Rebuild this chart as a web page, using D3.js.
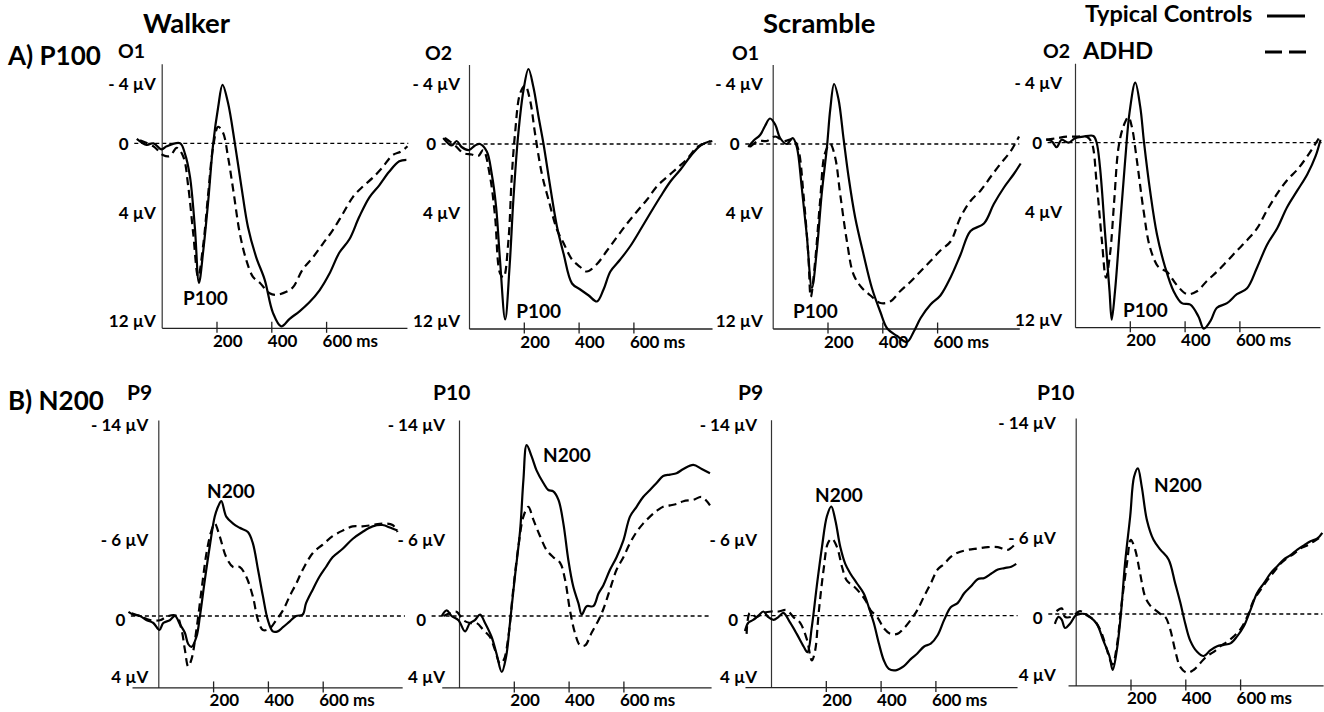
<!DOCTYPE html>
<html><head><meta charset="utf-8">
<script src="https://cdn.jsdelivr.net/npm/d3@7"></script>
<style>
html,body{margin:0;padding:0;background:#fff;}
svg{display:block;font-family:Lato,'Liberation Sans',Arial,sans-serif;font-weight:bold;}
</style></head><body>
<svg id="chart" width="1324" height="712"></svg>
<script>
// ---------------- DATA (time in ms, amplitude in µV; negative is plotted up) ----------------
const seriesNames = ["Typical Controls", "ADHD"];
const conditions = ["Walker", "Scramble"];
const rowTitles = ["A) P100", "B) N200"];
const peakLabels = ["P100", "N200"];
const panelElectrodes = ["O1", "O2", "O1", "O2", "P9", "P10", "P9", "P10"];

const topTickValues = [-4, 0, 4, 12];
const topTickLabels = ["- 4 µV", "0", "4 µV", "12 µV"];
const bottomTickValues = [-14, -6, 0, 4];
const bottomTickLabels = ["- 14 µV", "- 6 µV", "0", "4 µV"];
const timeTickValues = [200, 400, 600];
const timeTickLabels = ["200", "400", "600 ms"];

const walkerO1_TC = [[-91,-0.3],[-55,0.1],[-30,0],[0,0.4],[18,0.2],[67,0],[85,0.7],[103,2.2],[121,5.6],[136,9.3],[152,7.1],[170,3.8],[188,0],[206,-2.4],[222,-3.9],[242,-2.7],[267,0],[291,2.9],[315,5.6],[345,7.6],[376,9.1],[406,11.3],[436,12.2],[467,11.7],[503,11.2],[539,10.6],[576,9.8],[612,8.7],[648,7.3],[685,6.4],[721,4.9],[758,3.6],[794,2.8],[830,1.9],[867,1.2],[893,1.1]];
const walkerO1_ADHD = [[-79,-0.2],[-30,0.2],[6,0.8],[30,0.85],[55,0.3],[79,0.9],[97,2.9],[115,6],[133,8.9],[152,6.7],[170,3.3],[188,0.2],[206,-1.1],[224,-0.7],[242,0.9],[261,3.1],[285,6],[309,7.8],[333,8.9],[358,9.3],[394,10],[418,10.1],[455,9.9],[479,9.6],[515,8.4],[552,7.6],[588,6.7],[624,5.8],[661,4.7],[697,3.6],[733,2.9],[770,2.3],[806,1.6],[842,0.8],[873,0.55],[897,0.2]];

const walkerO2_TC = [[-94,-0.4],[-63,0.1],[-45,-0.2],[-27,0.2],[0,0.4],[22,0.1],[40,0],[65,0.5],[83,2],[99,4.2],[113,7.7],[132,11.7],[148,8.2],[162,3.7],[180,-0.7],[199,-3.6],[217,-5],[235,-3.8],[254,-1.8],[272,0],[296,2.8],[321,5.5],[345,7.3],[376,9.3],[406,9.7],[437,10.1],[467,10.5],[491,9.7],[516,8.5],[552,7.7],[589,6.8],[626,5.7],[662,4.6],[699,3.5],[735,2.5],[772,1.7],[809,0.8],[845,0.1],[882,-0.2]];
const walkerO2_ADHD = [[-88,-0.4],[-51,0.1],[-21,0.6],[10,0.7],[34,0.8],[52,0.4],[77,2.2],[95,4.8],[113,8.6],[126,8.9],[144,6.4],[156,2.2],[168,-0.7],[187,-3.4],[205,-3.9],[223,-2.9],[241,-0.7],[266,2],[290,3.7],[321,5.7],[345,6.6],[376,7.7],[406,8.2],[430,8.5],[467,8],[504,7.1],[540,6.2],[577,5.3],[613,4.5],[650,3.7],[687,2.8],[723,2.2],[760,1.6],[796,1],[833,0.2],[870,-0.1],[888,-0.2]];

const scrambleO1_TC = [[-89,0.2],[-71,-0.2],[-46,-0.6],[-28,-1.2],[-10,-1.7],[9,-1.3],[27,-0.4],[51,0],[73,-0.4],[88,0.2],[106,2.9],[124,6],[143,9.6],[161,7.1],[179,3.3],[198,0.2],[210,-2.3],[224,-4],[240,-3],[259,-0.3],[277,2.2],[301,4.9],[332,7.4],[362,9.6],[393,11.2],[418,12.3],[454,12.8],[490,13.2],[515,12.5],[540,11.6],[576,10.7],[612,10.1],[649,8.9],[685,7.4],[722,5.8],[771,5.3],[807,4],[844,2.9],[880,2],[905,1.3]];
const scrambleO1_ADHD = [[-83,0.2],[-52,-0.2],[-22,-0.2],[9,-0.5],[39,-0.2],[76,-0.3],[94,0.4],[112,3.3],[130,7.4],[139,10.2],[155,7.8],[173,3.8],[191,0.6],[210,0],[228,0.9],[246,3.3],[271,6.5],[295,8.7],[326,9.6],[357,10.1],[393,10.6],[429,10.5],[466,9.8],[502,9.2],[539,8.5],[576,7.8],[612,7.1],[649,6.5],[685,4.9],[722,3.8],[759,3.1],[795,2.2],[832,1.3],[868,0.5],[899,-0.5]];

const scrambleO2_TC = [[-105,-0.2],[-85,-0.1],[-67,0.3],[-49,-0.2],[-24,0],[0,-0.3],[30,-0.4],[67,-0.45],[79,0],[91,1.6],[110,6.1],[126,9.9],[134,11.8],[146,9.9],[165,5.4],[183,1.2],[199,-2],[220,-4],[238,-2.4],[252,0],[274,3.2],[299,6.1],[329,8.3],[360,9.9],[390,10.7],[421,10.8],[451,11.6],[470,12.4],[494,11.9],[518,11],[555,10.7],[591,10.1],[628,9.7],[665,8.3],[701,6.8],[738,5.7],[774,4.3],[811,3.2],[848,2.1],[878,0.9],[896,-0.2]];
const scrambleO2_ADHD = [[-105,-0.2],[-67,-0.3],[-30,-0.4],[6,-0.4],[43,-0.4],[61,0],[79,2.7],[98,6.5],[113,9],[128,7.4],[143,3.9],[159,0.3],[177,-1.1],[195,-1.7],[207,-1.1],[226,1.2],[250,4.5],[274,7],[305,8.3],[335,8.6],[372,9.5],[409,10.1],[445,9.9],[482,9.2],[518,8.6],[555,7.9],[591,7.2],[628,6.5],[665,5.7],[701,4.5],[738,3.4],[774,2.5],[811,1.8],[848,0.9],[890,-0.3]];

const walkerP9_TC = [[-109,-0.3],[-91,-0.1],[-67,0],[-42,0.3],[-18,0.5],[4,1],[18,0.5],[42,0.3],[61,0],[79,0.6],[97,1.2],[109,2],[121,2.2],[139,1.5],[152,0],[170,-2.6],[188,-5],[206,-7.1],[218,-7.8],[230,-8.2],[248,-7.1],[273,-6.6],[297,-6.3],[327,-6],[345,-5.2],[364,-3.3],[382,-1.4],[400,0.3],[418,1.1],[436,1.1],[455,0.8],[479,0.4],[503,0],[527,-0.1],[539,-0.9],[564,-1.9],[588,-2.8],[612,-3.5],[636,-4.2],[673,-4.8],[709,-5.5],[745,-6],[782,-6.4],[818,-6.5],[848,-6.3],[873,-6.1]];
const walkerP9_ADHD = [[-97,-0.2],[-67,0],[-30,0.3],[6,0.3],[36,0],[67,0],[85,1],[97,2.4],[109,3.6],[121,3.1],[139,1],[158,-1.9],[176,-4.5],[194,-6.1],[206,-6.6],[224,-5.7],[248,-4.2],[273,-3.5],[297,-3.5],[321,-2.8],[345,-1.4],[364,0.3],[382,1],[406,0.9],[430,0.3],[455,-0.4],[479,-1.4],[503,-2.3],[527,-3.3],[564,-4.5],[600,-5.1],[636,-5.7],[673,-6.1],[709,-6.4],[745,-6.4],[782,-6.5],[818,-6.6],[855,-6.5],[873,-6]];

const walkerP10_TC = [[-63,0],[-45,-0.4],[-27,0],[-2,0.3],[22,1.1],[40,0.5],[58,0.3],[77,-0.1],[95,0.5],[119,1.5],[137,2.7],[156,4],[172,2.9],[186,0.5],[204,-2.8],[223,-6.1],[235,-9.7],[247,-12.2],[265,-11.4],[283,-10.4],[308,-9.5],[326,-9],[344,-8.9],[363,-8.3],[381,-6.6],[399,-4],[417,-2.1],[436,-0.9],[448,-0.1],[466,-0.7],[490,-0.7],[509,-1.6],[527,-2.2],[551,-3.3],[575,-4.2],[600,-5.4],[624,-7.1],[648,-7.8],[672,-8.5],[697,-9],[721,-9.5],[745,-10],[770,-10.1],[794,-10.2],[819,-10.5],[855,-10.8],[886,-10.5],[916,-10.2]];
const walkerP10_ADHD = [[-57,0],[-33,-0.2],[-9,-0.3],[16,0.3],[40,0.5],[64,0.5],[89,1],[113,1.5],[131,2.4],[150,3.4],[164,3.1],[180,1.5],[198,-1.9],[217,-5],[235,-7.1],[253,-7.8],[271,-6.9],[296,-5.7],[320,-4.7],[344,-4.2],[369,-3.8],[387,-2.6],[405,-0.4],[423,1.2],[442,2.1],[460,2.1],[484,1.2],[509,0.3],[527,-0.5],[551,-1.9],[575,-3.3],[600,-4.2],[624,-5.2],[648,-6],[672,-6.6],[697,-7.1],[721,-7.5],[745,-7.8],[770,-7.9],[794,-8],[819,-8.2],[855,-8.3],[886,-8.5],[916,-7.9]];

const scrambleP9_TC = [[-95,1.1],[-83,0.5],[-65,0.3],[-46,0],[-28,-0.3],[-10,0.1],[9,0.3],[27,0.1],[45,-0.2],[70,0.5],[94,1.3],[119,2.2],[133,2.6],[149,0.8],[167,-2.1],[186,-4.9],[204,-7.1],[220,-7.8],[235,-6.8],[253,-4.9],[271,-3.7],[290,-3],[314,-2.3],[338,-1.6],[357,-0.6],[375,0.5],[394,2],[412,3.2],[430,3.8],[455,3.9],[485,3.6],[510,3.1],[534,2.7],[559,2.2],[583,2],[608,1.4],[632,0.3],[656,-0.6],[681,-0.9],[705,-1.6],[730,-2.1],[754,-2.6],[779,-2.7],[803,-3],[828,-3.3],[852,-3.4],[877,-3.5],[895,-3.7]];
const scrambleP9_ADHD = [[-89,1.3],[-77,-0.2],[-53,0.1],[-28,-0.2],[2,-0.3],[27,-0.3],[57,-0.4],[82,0.1],[106,0.5],[131,1.7],[149,3.2],[161,2.5],[174,-0.2],[192,-3.3],[208,-5.2],[222,-5.5],[241,-4.9],[259,-3.5],[277,-2.5],[302,-2.1],[326,-1.6],[345,-1.1],[363,-0.4],[388,0.1],[412,0.9],[436,1.3],[461,1.3],[485,0.9],[510,0.3],[534,-0.4],[559,-1.4],[583,-2.3],[608,-3.3],[632,-3.7],[656,-4.2],[681,-4.5],[718,-4.7],[754,-4.8],[791,-4.9],[828,-4.9],[864,-4.7],[895,-5.2]];

const scrambleP10_TC = [[-76,0.7],[-63,0.2],[-51,0.4],[-39,1],[-21,0.7],[0,0.1],[16,0],[34,0],[52,0.2],[77,0.7],[101,1.9],[123,3],[135,4],[150,2.6],[165,0],[180,-3.6],[199,-7],[213,-9.8],[227,-10.4],[241,-9.1],[260,-6.7],[284,-5.3],[309,-4.6],[339,-3.9],[363,-2.2],[382,-0.8],[400,0.7],[418,1.9],[443,2.7],[467,3],[491,2.6],[516,2.3],[540,2.2],[565,2.1],[589,1.6],[613,0.9],[638,-0.3],[662,-1.5],[687,-2.2],[711,-2.9],[735,-3.4],[760,-3.9],[784,-4.2],[809,-4.6],[833,-4.9],[857,-5.2],[882,-5.4],[900,-5.8]];
const scrambleP10_ADHD = [[-70,-0.2],[-51,-0.4],[-39,0.2],[-15,0.2],[16,-0.2],[40,0.1],[65,0.4],[89,1.1],[107,2.1],[126,3.3],[135,3.6],[150,2.3],[168,-0.8],[187,-3.6],[201,-5.3],[217,-4.6],[235,-2.9],[254,-1.2],[272,-0.6],[290,-0.3],[309,0],[327,0.2],[345,1.1],[363,2.6],[382,3.8],[406,4.2],[430,4],[455,3.5],[479,3],[504,2.7],[528,2.3],[552,2],[577,1.6],[601,1.1],[626,0.2],[650,-1],[674,-1.7],[699,-2.4],[723,-3],[748,-3.6],[772,-4],[796,-4.3],[821,-4.7],[845,-4.9],[870,-5.2],[894,-5.5]];

// Peak-label anchors in data units [ms, µV]
const peakLabelAnchors = [[78,10.8],[172,11.6],[74,11.6],[175,11.6],[178,-8.4],[307,-11],[161,-8.1],[286,-8.7]];

// ---------------- LAYOUT ----------------
const panelSeries = [
  [walkerO1_TC, walkerO1_ADHD], [walkerO2_TC, walkerO2_ADHD],
  [scrambleO1_TC, scrambleO1_ADHD], [scrambleO2_TC, scrambleO2_ADHD],
  [walkerP9_TC, walkerP9_ADHD], [walkerP10_TC, walkerP10_ADHD],
  [scrambleP9_TC, scrambleP9_ADHD], [scrambleP10_TC, scrambleP10_ADHD]
];
const rows = [
  {pxPerUV: 15, domain: [-5.3, 12.3], ticks: topTickValues, labels: topTickLabels, labelShift: [0, 0, 9, -3], titleSize: 19.5},
  {pxPerUV: 14, domain: [-14, 5.1], ticks: bottomTickValues, labels: bottomTickLabels, labelShift: [5, 8, 4, 5], titleSize: 21}
];
// x0: pixel of t=0 (y axis), y0: pixel of 0 µV, axis: x-axis extent (ms), lab: label gap, title: [x, baseline]
const layout = [
  {row:0, x0:161.7, y0:143.3, axis:[0,895], lab:6,  title:[118,58]},
  {row:0, x0:469,   y0:144,   axis:[0,887], lab:9,  title:[425,60]},
  {row:0, x0:772.7, y0:144,   axis:[0,900], lab:10, title:[732,60]},
  {row:0, x0:1075,  y0:142.7, axis:[0,894], lab:13, title:[1043,58]},
  {row:1, x0:158.3, y0:616,   axis:[-96,890], lab:10, title:[127,400]},
  {row:1, x0:459,   y0:616,   axis:[-63,920], lab:14, title:[433,400]},
  {row:1, x0:771,   y0:615.7, axis:[-95,898], lab:14, title:[738,400]},
  {row:1, x0:1075.7,y0:614,   axis:[-28,903], lab:20, title:[1037,400]}
];
const pxPerMs = 0.274;

const svg = d3.select("#chart");
svg.append("rect").attr("width",1324).attr("height",712).attr("fill","#fff");

// Headers
const hdr = [
  {t: conditions[0], x:143, y:33, s:27.5},
  {t: conditions[1], x:763, y:33, s:27.5},
  {t: rowTitles[0], x:8, y:65, s:26},
  {t: rowTitles[1], x:8, y:410, s:26},
  {t: seriesNames[0], x:1085, y:22, s:23.5},
  {t: seriesNames[1], x:1083, y:59, s:23.5}
];
svg.selectAll("text.hdr").data(hdr).join("text").attr("class","hdr")
  .attr("x",d=>d.x).attr("y",d=>d.y).attr("font-size",d=>d.s).attr("fill","#000").text(d=>d.t);

// Legend lines
svg.append("line").attr("x1",1267).attr("x2",1305).attr("y1",16).attr("y2",16)
  .attr("stroke","#000").attr("stroke-width",3);
svg.append("line").attr("x1",1265).attr("x2",1306).attr("y1",52).attr("y2",52)
  .attr("stroke","#000").attr("stroke-width",3).attr("stroke-dasharray","17,7");

layout.forEach((L, i) => {
  const R = rows[L.row];
  const x = d3.scaleLinear().domain([-100, 900]).range([L.x0 - 100*pxPerMs, L.x0 + 900*pxPerMs]);
  const y = d3.scaleLinear().domain(R.domain).range([L.y0 + R.domain[0]*R.pxPerUV, L.y0 + R.domain[1]*R.pxPerUV]);
  const g = svg.append("g");

  // zero reference line
  g.append("line").attr("x1", x(-100)).attr("x2", x(i===5 ? 920 : 900))
    .attr("y1", y(0)).attr("y2", y(0))
    .attr("stroke","#000").attr("stroke-width",1.3).attr("stroke-dasharray","4,3");

  // y axis
  const yAxis = d3.axisLeft(y).tickValues(R.ticks).tickSize(0).tickPadding(L.lab)
    .tickFormat((d,k)=>R.labels[k]);
  const ya = g.append("g").attr("transform",`translate(${L.x0},0)`).call(yAxis);
  ya.attr("font-family",null);
  ya.select(".domain").attr("stroke","#333").attr("stroke-width",1.2);
  ya.selectAll(".tick text").attr("font-size",17).attr("fill","#000")
    .attr("dy", "0.35em")
    .attr("transform", (d,k) => `translate(0,${R.labelShift[k]})`)
    .attr("x", d => d===0 ? -33 : -L.lab);

  // x axis
  const xa = d3.scaleLinear().domain(L.axis).range([x(L.axis[0]), x(L.axis[1])]);
  const xAxis = d3.axisBottom(xa).tickValues(timeTickValues).tickSizeOuter(0)
    .tickFormat((d,k)=>timeTickLabels[k]);
  const xg = g.append("g").attr("transform",`translate(0,${y(R.domain[1])})`).call(xAxis);
  xg.attr("font-family",null);
  xg.select(".domain").attr("stroke","#222").attr("stroke-width",1.3);
  xg.selectAll(".tick line").attr("y1",-6).attr("y2",5).attr("stroke","#222").attr("stroke-width",1.3);
  xg.selectAll(".tick text").attr("font-size",17).attr("fill","#000")
    .attr("text-anchor","start").attr("x",-4).attr("y",19).attr("dy",0);

  // traces
  const line = d3.line().x(d=>x(d[0])).y(d=>y(d[1])).curve(d3.curveCatmullRom.alpha(0.5));
  panelSeries[i].forEach((s, k) => {
    g.append("path").datum(s).attr("d", line).attr("fill","none")
      .attr("stroke","#000").attr("stroke-width",2.2)
      .attr("stroke-linejoin","round")
      .attr("stroke-dasharray", k===1 ? "8,5" : null);
  });

  // panel electrode label
  g.append("text").attr("x",L.title[0]).attr("y",L.title[1])
    .attr("font-size", R.titleSize).attr("fill","#000").text(panelElectrodes[i]);

  // peak label
  const a = peakLabelAnchors[i];
  g.append("text").attr("x", x(a[0])).attr("y", y(a[1]))
    .attr("font-size",19).attr("fill","#000").text(peakLabels[L.row]);
});
</script>
</body></html>
